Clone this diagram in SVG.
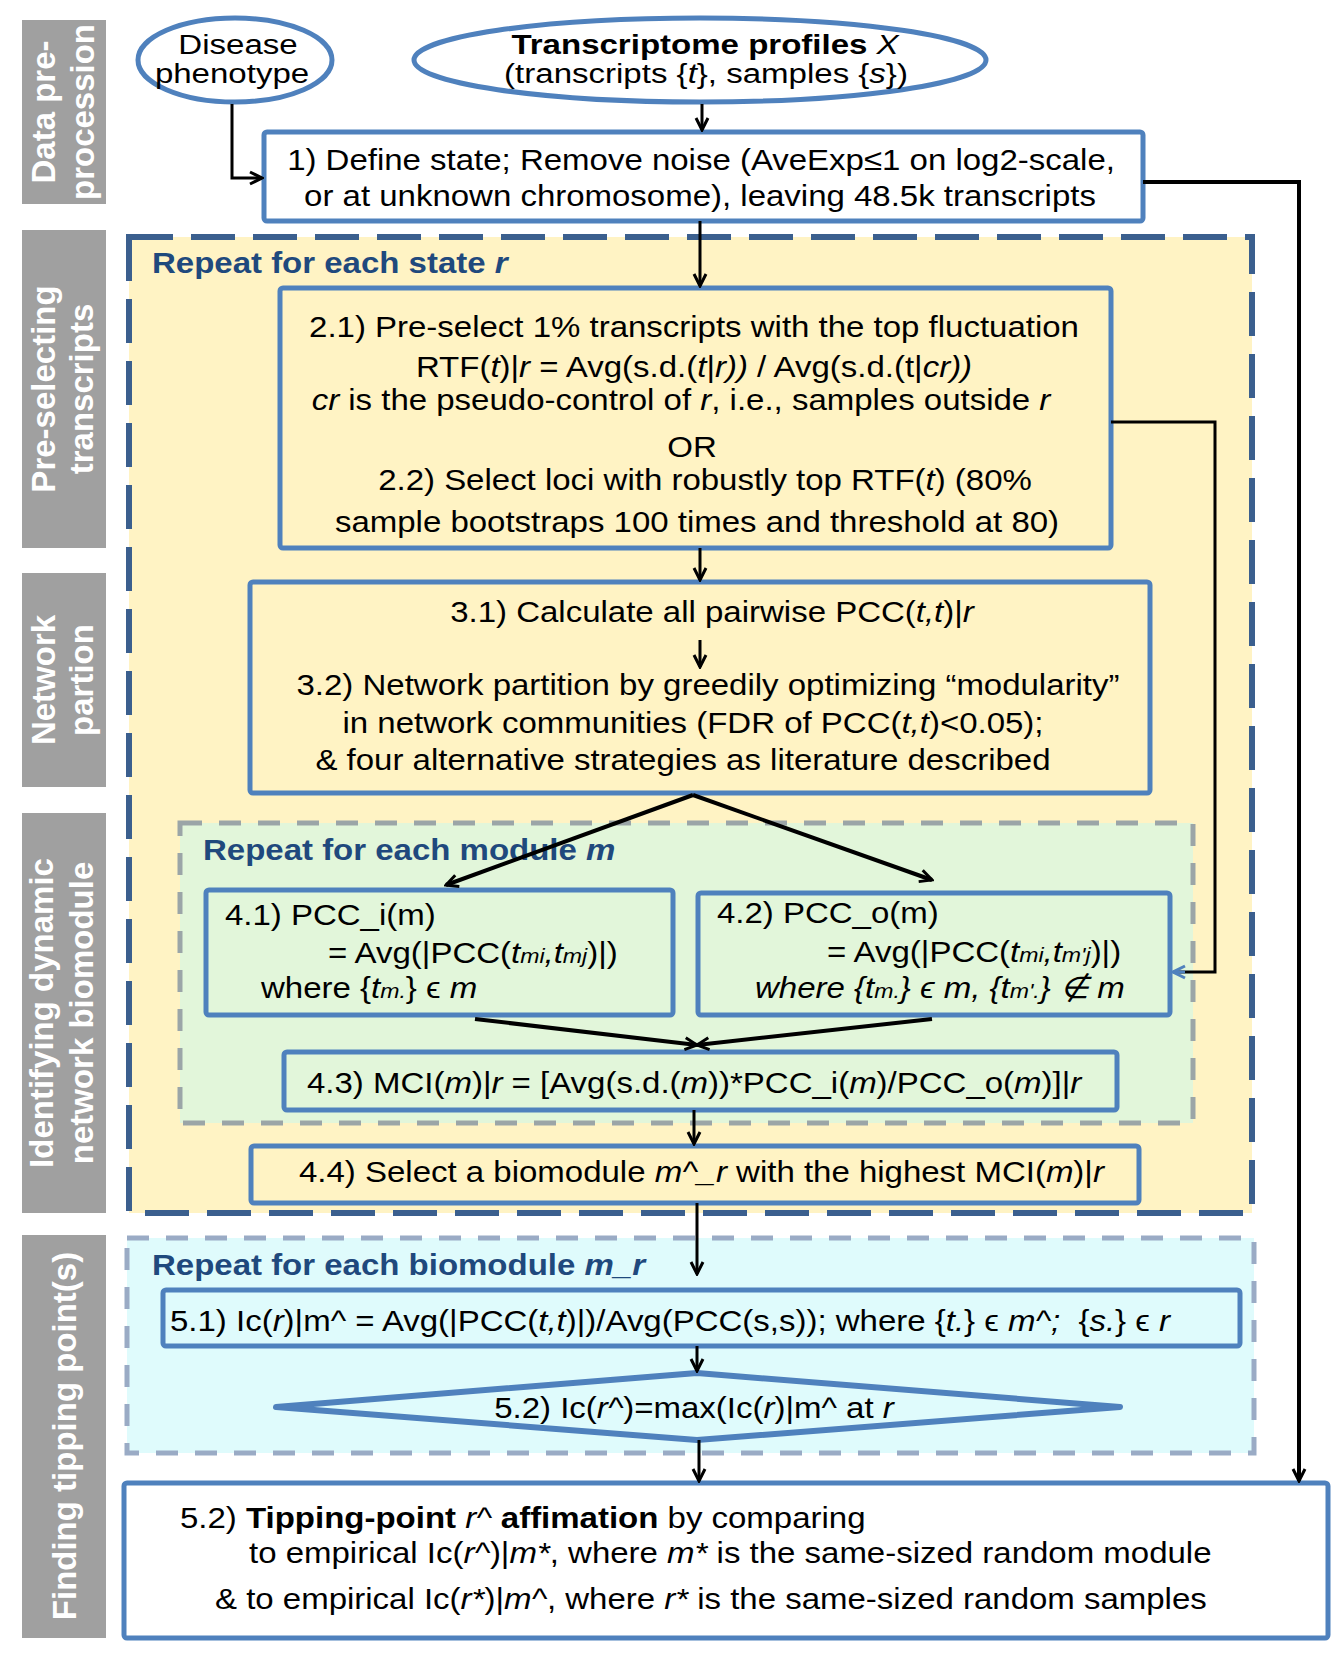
<svg xmlns="http://www.w3.org/2000/svg" width="1339" height="1654" viewBox="0 0 1339 1654">
<defs>
<marker id="ah" viewBox="0 0 16 16" refX="14" refY="8" markerWidth="16" markerHeight="16" markerUnits="userSpaceOnUse" orient="auto">
<path d="M2,2 L14,8 L2,14" fill="none" stroke="#000" stroke-width="3"/>
</marker>
<marker id="ahb" viewBox="0 0 16 16" refX="14" refY="8" markerWidth="16" markerHeight="16" markerUnits="userSpaceOnUse" orient="auto">
<path d="M2,2 L14,8 L2,14" fill="none" stroke="#4F81BD" stroke-width="3"/>
</marker>
</defs>
<style>
.t{font-family:"Liberation Sans",Arial,sans-serif;font-size:30px;fill:#000}
.e{font-family:"Liberation Sans",Arial,sans-serif;font-size:28px;fill:#000}
.h{font-family:"Liberation Sans",Arial,sans-serif;font-size:30px;font-weight:bold;fill:#1F497D}
.lab{font-family:"Liberation Sans",Arial,sans-serif;font-size:33px;font-weight:bold;fill:#fff}
.i{font-style:italic}
.b{font-weight:bold}
.s{font-size:21px;font-style:italic}
.box{stroke:#4F81BD;stroke-width:5}
.lb{fill:#A0A0A0}
.c{fill:none;stroke:#000;stroke-width:3}
.c4{fill:none;stroke:#000;stroke-width:4}
</style>
<rect width="1339" height="1654" fill="#fff"/>

<g id="side-labels">
<rect class="lb" x="22" y="20" width="84" height="184"/>
<text class="lab" text-anchor="middle" transform="translate(55,112) rotate(-90)">Data pre-</text>
<text class="lab" text-anchor="middle" transform="translate(94,112) rotate(-90)">procession</text>
<rect class="lb" x="22" y="230" width="84" height="318"/>
<text class="lab" text-anchor="middle" transform="translate(55,389) rotate(-90)">Pre-selecting</text>
<text class="lab" text-anchor="middle" transform="translate(93,389) rotate(-90)">transcripts</text>
<rect class="lb" x="22" y="573" width="84" height="214"/>
<text class="lab" text-anchor="middle" transform="translate(55,680) rotate(-90)">Network</text>
<text class="lab" text-anchor="middle" transform="translate(93,680) rotate(-90)">partion</text>
<rect class="lb" x="22" y="813" width="84" height="400"/>
<text class="lab" text-anchor="middle" transform="translate(53,1013) rotate(-90)">Identifying dynamic</text>
<text class="lab" text-anchor="middle" transform="translate(93,1013) rotate(-90)">network biomodule</text>
<rect class="lb" x="22" y="1235" width="84" height="403"/>
<text class="lab" text-anchor="middle" transform="translate(76,1436) rotate(-90)">Finding tipping point(s)</text>
</g>

<g id="containers">
<rect id="state-loop" x="129" y="237" width="1123" height="976" fill="#FFF3C4" stroke="#3B5F8E" stroke-width="6" stroke-dasharray="44 18"/>
<text class="h" transform="translate(152,273) scale(1.1 1)">Repeat for each state <tspan class="i">r</tspan></text>
<rect id="module-loop" x="180" y="823" width="1013" height="300" fill="#E2F6DA" stroke="#9BA5A7" stroke-width="5" stroke-dasharray="22 17"/>
<text class="h" transform="translate(203,860) scale(1.1 1)">Repeat for each module <tspan class="i">m</tspan></text>
<rect id="biomodule-loop" x="127" y="1238" width="1127" height="215" fill="#DFFBFC" stroke="#9AABC5" stroke-width="5" stroke-dasharray="22 17"/>
<text class="h" transform="translate(152,1275) scale(1.1 1)">Repeat for each biomodule <tspan class="i">m_r</tspan></text>
</g>

<g id="disease">
<ellipse cx="235" cy="60" rx="97" ry="42" fill="#fff" class="box"/>
<text class="e" text-anchor="middle" transform="translate(238,54) scale(1.18 1)">Disease</text>
<text class="e" text-anchor="middle" transform="translate(232,83) scale(1.18 1)">phenotype</text>
</g>

<g id="transcriptome">
<ellipse cx="700" cy="60" rx="286" ry="42" fill="#fff" class="box"/>
<text class="e" text-anchor="middle" transform="translate(705,54) scale(1.18 1)"><tspan class="b">Transcriptome profiles </tspan><tspan class="i">X</tspan></text>
<text class="e" text-anchor="middle" transform="translate(706,83) scale(1.18 1)">(transcripts {<tspan class="i">t</tspan>}, samples {<tspan class="i">s</tspan>})</text>
</g>

<g id="step1">
<rect x="264" y="132" width="879" height="89" rx="3" fill="#fff" class="box"/>
<text class="t" text-anchor="middle" transform="translate(701,170) scale(1.1 1)">1) Define state; Remove noise (AveExp≤1 on log2-scale,</text>
<text class="t" text-anchor="middle" transform="translate(700,206) scale(1.1 1)">or at unknown chromosome), leaving 48.5k transcripts</text>
</g>

<g id="step2">
<rect x="280" y="288" width="831" height="260" rx="3" fill="#FFF3C4" class="box"/>
<text class="t" text-anchor="middle" transform="translate(694,337) scale(1.1 1)">2.1) Pre-select 1% transcripts with the top fluctuation</text>
<text class="t" text-anchor="middle" transform="translate(694,377) scale(1.1 1)">RTF(<tspan class="i">t</tspan>)|<tspan class="i">r</tspan> = Avg(s.d.(<tspan class="i">t</tspan>|<tspan class="i">r))</tspan> / Avg(s.d.(t|<tspan class="i">cr))</tspan></text>
<text class="t" text-anchor="middle" transform="translate(681,410) scale(1.1 1)"><tspan class="i">cr</tspan> is the pseudo-control of <tspan class="i">r</tspan>, i.e., samples outside <tspan class="i">r</tspan></text>
<text class="t" text-anchor="middle" transform="translate(692,457) scale(1.1 1)">OR</text>
<text class="t" text-anchor="middle" transform="translate(705,490) scale(1.1 1)">2.2) Select loci with robustly top RTF(<tspan class="i">t</tspan>) (80%</text>
<text class="t" text-anchor="middle" transform="translate(697,532) scale(1.1 1)">sample bootstraps 100 times and threshold at 80)</text>
</g>

<g id="step3">
<rect x="250" y="582" width="900" height="211" rx="3" fill="#FFF3C4" class="box"/>
<text class="t" text-anchor="middle" transform="translate(712,622) scale(1.1 1)">3.1) Calculate all pairwise PCC(<tspan class="i">t,t</tspan>)|<tspan class="i">r</tspan></text>
<text class="t" text-anchor="middle" transform="translate(708,695) scale(1.1 1)">3.2) Network partition by greedily optimizing “modularity”</text>
<text class="t" text-anchor="middle" transform="translate(693,733) scale(1.1 1)">in network communities (FDR of PCC(<tspan class="i">t,t</tspan>)&lt;0.05);</text>
<text class="t" text-anchor="middle" transform="translate(683,770) scale(1.1 1)">&amp; four alternative strategies as literature described</text>
</g>

<g id="step4-1">
<rect x="206" y="890" width="467" height="125" rx="3" fill="#E2F6DA" class="box"/>
<text class="t" transform="translate(225,925) scale(1.1 1)">4.1) PCC_i(m)</text>
<text class="t" transform="translate(328,963) scale(1.1 1)">= Avg(|PCC(<tspan class="i">t</tspan><tspan class="s">mi</tspan><tspan class="i">,t</tspan><tspan class="s">mj</tspan>)|)</text>
<text class="t" transform="translate(261,998) scale(1.1 1)">where {<tspan class="i">t</tspan><tspan class="s">m.</tspan>} ϵ <tspan class="i">m</tspan></text>
</g>

<g id="step4-2">
<rect x="698" y="893" width="472" height="122" rx="3" fill="#E2F6DA" class="box"/>
<text class="t" transform="translate(717,923) scale(1.1 1)">4.2) PCC_o(m)</text>
<text class="t" transform="translate(827,962) scale(1.1 1)">= Avg(|PCC(<tspan class="i">t</tspan><tspan class="s">mi</tspan><tspan class="i">,t</tspan><tspan class="s">m'j</tspan>)|)</text>
<text class="t i" transform="translate(755,998) scale(1.1 1)">where {t<tspan class="s">m.</tspan>} ϵ m, {t<tspan class="s">m'.</tspan>} ∉ m</text>
</g>

<g id="step4-3">
<rect x="284" y="1052" width="833" height="58" rx="3" fill="#E2F6DA" class="box"/>
<text class="t" transform="translate(307,1093) scale(1.1 1)">4.3) MCI(<tspan class="i">m</tspan>)|<tspan class="i">r</tspan> = [Avg(s.d.(<tspan class="i">m</tspan>))*PCC_i(<tspan class="i">m</tspan>)/PCC_o(<tspan class="i">m</tspan>)]|<tspan class="i">r</tspan></text>
</g>

<g id="step4-4">
<rect x="251" y="1146" width="888" height="57" rx="3" fill="#FFF3C4" class="box"/>
<text class="t" transform="translate(299,1182) scale(1.1 1)">4.4) Select a biomodule <tspan class="i">m^_r</tspan> with the highest MCI(<tspan class="i">m</tspan>)|<tspan class="i">r</tspan></text>
</g>

<g id="step5-1">
<rect x="163" y="1290" width="1077" height="56" rx="3" fill="#DFFBFC" class="box"/>
<text class="t" transform="translate(170,1331) scale(1.1 1)">5.1) Ic(<tspan class="i">r</tspan>)|m^ = Avg(|PCC(<tspan class="i">t,t</tspan>)|)/Avg(PCC(s,s)); where {<tspan class="i">t.</tspan>} ϵ <tspan class="i">m^;</tspan>&#160; {<tspan class="i">s.</tspan>} ϵ <tspan class="i">r</tspan></text>
</g>

<g id="step5-2">
<polygon points="697,1373 1120,1407 697,1440 276,1407" fill="#DFFBFC" stroke="#4F81BD" stroke-width="6" stroke-linejoin="round"/>
<text class="t" text-anchor="middle" transform="translate(694,1418) scale(1.1 1)">5.2) Ic(<tspan class="i">r^</tspan>)=max(Ic(<tspan class="i">r</tspan>)|m^ at <tspan class="i">r</tspan></text>
</g>

<g id="step5-3">
<rect x="124" y="1483" width="1204" height="155" rx="3" fill="#fff" class="box"/>
<text class="t" transform="translate(180,1528) scale(1.1 1)">5.2) <tspan class="b">Tipping-point </tspan><tspan class="i">r^</tspan><tspan class="b"> affimation</tspan> by comparing</text>
<text class="t" transform="translate(249,1563) scale(1.1 1)">to empirical Ic(<tspan class="i">r^</tspan>)|<tspan class="i">m*</tspan>, where <tspan class="i">m*</tspan> is the same-sized random module</text>
<text class="t" transform="translate(215,1609) scale(1.1 1)">&amp; to empirical Ic(<tspan class="i">r*</tspan>)|<tspan class="i">m^</tspan>, where <tspan class="i">r*</tspan> is the same-sized random samples</text>
</g>

<g id="connectors">
<path class="c" d="M232,104 V178 H262" marker-end="url(#ah)"/>
<path class="c" d="M702,104 V130" marker-end="url(#ah)"/>
<path class="c" d="M700,221 V286" marker-end="url(#ah)"/>
<path class="c4" d="M1143,182 H1299 V1481" marker-end="url(#ah)"/>
<path fill="none" stroke="#000" stroke-width="3" d="M1111,422 H1215 V972 H1175"/>
<path fill="none" stroke="#4F81BD" stroke-width="3" d="M1185,972 H1173" marker-end="url(#ahb)"/>
<path class="c" d="M700,548 V580" marker-end="url(#ah)"/>
<path class="c" d="M700,640 V667" marker-end="url(#ah)"/>
<path class="c4" d="M693,795 L446,885" marker-end="url(#ah)"/>
<path class="c4" d="M693,795 L932,880" marker-end="url(#ah)"/>
<path class="c4" d="M475,1019 L697,1045" marker-end="url(#ah)"/>
<path class="c4" d="M932,1019 L697,1045" marker-end="url(#ah)"/>
<path class="c" d="M694,1110 V1144" marker-end="url(#ah)"/>
<path class="c" d="M697,1203 V1274" marker-end="url(#ah)"/>
<path class="c" d="M697,1346 V1371" marker-end="url(#ah)"/>
<path class="c" d="M699,1440 V1481" marker-end="url(#ah)"/>
</g>
</svg>
